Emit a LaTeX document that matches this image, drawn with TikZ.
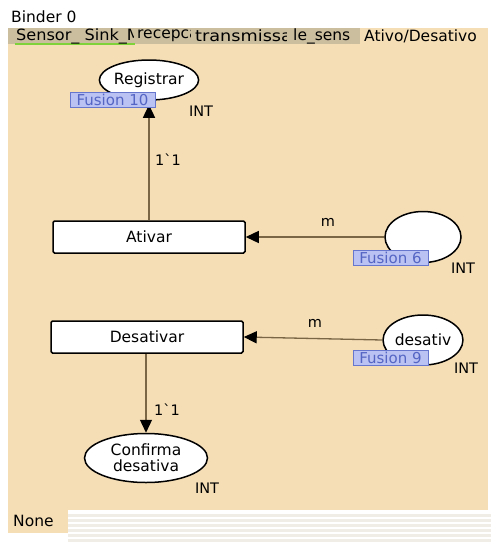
\documentclass[tikz,border=0pt]{standalone}
\usepackage{fontspec}
\setmainfont{DejaVu Sans}[Ligatures=TeXOff]
\usetikzlibrary{arrows.meta,shapes.geometric}
\definecolor{canvas}{HTML}{F5DEB6}
\definecolor{tabgray}{HTML}{CBBE9F}
\definecolor{tabgreen}{HTML}{7FD23A}
\definecolor{arcline}{HTML}{7A6545}
\definecolor{fusfill}{HTML}{B9C2F2}
\definecolor{fusdraw}{HTML}{6676CC}
\definecolor{fustext}{HTML}{5565C4}
\definecolor{stripe}{HTML}{EFEDE6}
\tikzset{
  txt/.style={font=\fontsize{15.5}{17}\selectfont, inner sep=0pt},
  place/.style={ellipse, draw=black, line width=1.5pt, fill=white, inner sep=0pt,
    font=\fontsize{15.5}{16}\selectfont, align=center},
  trans/.style={rectangle, draw=black, line width=1.5pt, fill=white, rounded corners=1.5pt,
    minimum width=192pt, minimum height=32pt, font=\fontsize{15.5}{17}\selectfont},
  fusion/.style={rectangle, draw=fusdraw, line width=1pt, fill=fusfill, text=fustext,
    inner sep=0pt, minimum height=15pt, font=\fontsize{15}{15}\selectfont},
  arc/.style={draw=arcline, line width=1.3pt, -{Triangle[width=12pt,length=13pt,color=black]}},
  lbl/.style={font=\fontsize{14.5}{15}\selectfont, inner sep=0pt},
}
\begin{document}
\begin{tikzpicture}[x=1pt,y=-1pt]
  \useasboundingbox (0,0) rectangle (491,546);
  \fill[white] (0,0) rectangle (491,546);
  % window header
  \node[txt, anchor=west] (binder) at (11,17) {Binder 0};
  % canvas and tab strip
  \fill[canvas] (8,28) rectangle (488,510);
  \fill[tabgray] (8,28) rectangle (360,44);
  \fill[tabgreen] (15,42.5) rectangle (135,45);
  \begin{scope}
    \clip (8,28) rectangle (133,44);
    \node[txt, anchor=west] (tab1) at (16,36) {\scalebox{1.04}[1]{Sensor\_ Sink\_M}};
  \end{scope}
  \begin{scope}
    \clip (134,28) rectangle (190,44);
    \node[txt, anchor=west] (tab2) at (137,36) {recepcao};
  \end{scope}
  \begin{scope}
    \clip (191,28) rectangle (286,44);
    \node[txt, anchor=west] (tab3) at (195,36) {\scalebox{1.14}[1]{transmissao}};
  \end{scope}
  \node[txt, anchor=west] (tab4) at (293,36) {le\_sens};
  \node[txt, anchor=west] (tab5) at (364,36) {Ativo/Desativo};
  % bottom status strip
  \foreach \yy in {514,519,524,529,534,539}
    \fill[stripe] (68,\yy) rectangle (491,\yy+2.5);
  \fill[canvas] (8,510) rectangle (68,533);
  \node[txt, anchor=west] (none) at (13,521) {None};

  % places
  \node[place, minimum width=98pt, minimum height=40pt] (reg) at (149,80) {Registrar};
  \node[place, minimum width=76pt, minimum height=51pt] (p6) at (423,237) {};
  \node[place, minimum width=77pt, minimum height=50pt] (desat) at (423,340) {desativ};
  \node[place, minimum width=123pt, minimum height=49pt] (conf) at (146,458) {Confirma\\desativa};

  % transitions
  \node[trans] (ativar) at (149,237) {Ativar};
  \node[trans] (desativar) at (147,337) {Desativar};

  % arcs
  \draw[arc] (ativar.north -| reg.south) -- ([yshift=-4pt]reg.south);
  \draw[arc] (p6.west) -- (ativar.east);
  \draw[arc] (desat.west) -- (desativar.east);
  \draw[arc] (desativar.south -| conf.north) -- (conf.north);

  % arc inscriptions
  \node[lbl] (i1) at (168,160) {1`1};
  \node[lbl] (i2) at (328,222) {m};
  \node[lbl] (i3) at (315,323) {m};
  \node[lbl] (i4) at (167,410) {1`1};

  % fusion tags
  \node[fusion, minimum width=85pt] (f10) at (112.5,99.5) {Fusion 10};
  \node[fusion, minimum width=75pt] (f6) at (390.5,258) {Fusion 6};
  \node[fusion, minimum width=75pt] (f9) at (390.5,358) {Fusion 9};

  % colour sets
  \node[lbl] (c1) at (201,111) {INT};
  \node[lbl] (c2) at (463,268) {INT};
  \node[lbl] (c3) at (466,368) {INT};
  \node[lbl] (c4) at (207,488) {INT};
\end{tikzpicture}
\end{document}
